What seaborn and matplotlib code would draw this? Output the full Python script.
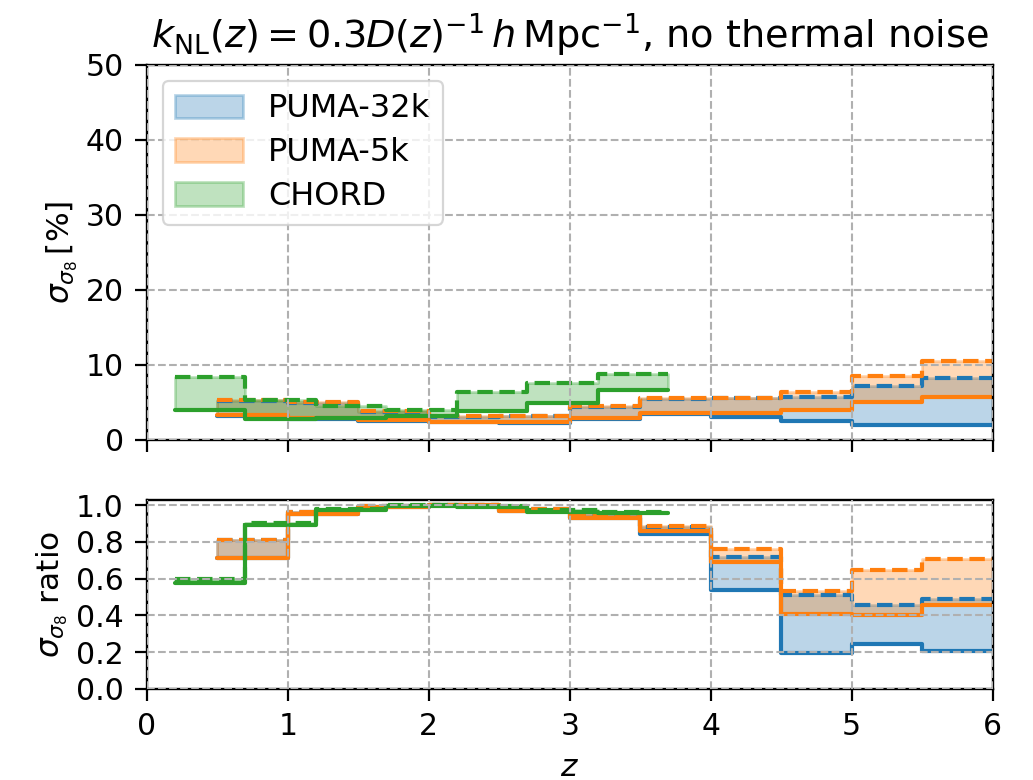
import numpy as np
import pandas as pd
import seaborn as sns
import matplotlib
matplotlib.use("Agg")
import matplotlib.pyplot as plt
from matplotlib.patches import Patch

# ---- data ----
puma_edges = [0.5, 1.0, 1.5, 2.0, 2.5, 3.0, 3.5, 4.0, 4.5, 5.0, 5.5, 6.0]
chord_edges = [0.2, 0.7, 1.2, 1.7, 2.2, 2.7, 3.2, 3.7]

# top panel: sigma_sigma8 [%]  (lo = solid, hi = dashed)
puma32k_lo = [3.2, 2.8, 2.5, 2.3, 2.2, 2.8, 3.4, 3.0, 2.45, 2.0, 1.9]
puma32k_hi = [5.2, 4.9, 3.7, 3.0, 3.1, 4.4, 5.4, 5.5, 5.7, 7.1, 8.2]
puma5k_lo = [3.3, 2.9, 2.6, 2.4, 2.3, 2.9, 3.6, 3.6, 3.9, 5.0, 5.7]
puma5k_hi = [5.3, 5.0, 3.8, 3.1, 3.2, 4.5, 5.6, 5.5, 6.3, 8.5, 10.5]
chord_lo = [4.0, 2.8, 2.9, 3.1, 3.8, 4.9, 6.6]
chord_hi = [8.4, 5.3, 4.5, 4.0, 6.4, 7.6, 8.7]

# bottom panel: ratio
puma32k_lo_r = [0.71, 0.95, 0.99, 1.0, 0.97, 0.93, 0.845, 0.54, 0.195, 0.245, 0.205]
puma32k_hi_r = [0.81, 0.965, 0.995, 1.0, 0.98, 0.955, 0.88, 0.72, 0.51, 0.455, 0.49]
puma5k_lo_r = [0.71, 0.95, 0.99, 1.0, 0.97, 0.93, 0.86, 0.69, 0.41, 0.40, 0.455]
puma5k_hi_r = [0.81, 0.965, 0.995, 1.0, 0.98, 0.955, 0.885, 0.76, 0.535, 0.645, 0.705]
chord_lo_r = [0.575, 0.89, 0.975, 0.995, 0.99, 0.965, 0.96]
chord_hi_r = [0.60, 0.905, 0.98, 1.0, 0.995, 0.975, 0.965]

labels = ["PUMA-32k", "PUMA-5k", "CHORD"]
title = r"$k_{\rm NL}(z) = 0.3D(z)^{-1}\,h\,{\rm Mpc}^{-1}$, no thermal noise"

# ---- style ----
sns.set_style("ticks")
plt.rcParams["font.family"] = ["DejaVu Sans"]
plt.rcParams["mathtext.fontset"] = "dejavusans"
plt.rcParams["font.size"] = 21.5
for k in ["text.color", "axes.labelcolor", "xtick.color", "ytick.color", "axes.edgecolor"]:
    plt.rcParams[k] = "black"
colors = sns.color_palette("tab10")[:3]

fig, (ax1, ax2) = plt.subplots(2, 1, figsize=(10.33, 7.8), dpi=100,
                               gridspec_kw=dict(height_ratios=[375, 189]))
fig.subplots_adjust(left=0.142, right=0.961, top=0.917, bottom=0.117, hspace=0.213)

def step_series(ax, edges, lo, hi, color):
    x = np.asarray(edges)
    lo_s = np.append(lo, lo[-1])
    hi_s = np.append(hi, hi[-1])
    ax.fill_between(x, lo_s, hi_s, step="post", color=color, alpha=0.3, lw=2)
    df = pd.DataFrame({"z": x, "lo": lo_s, "hi": hi_s})
    sns.lineplot(data=df, x="z", y="lo", ax=ax, color=color, lw=3,
                 drawstyle="steps-post", estimator=None, sort=False)
    sns.lineplot(data=df, x="z", y="hi", ax=ax, color=color, lw=3, ls="--",
                 drawstyle="steps-post", estimator=None, sort=False)

top_sets = [(puma_edges, puma32k_lo, puma32k_hi),
            (puma_edges, puma5k_lo, puma5k_hi),
            (chord_edges, chord_lo, chord_hi)]
bot_sets = [(puma_edges, puma32k_lo_r, puma32k_hi_r),
            (puma_edges, puma5k_lo_r, puma5k_hi_r),
            (chord_edges, chord_lo_r, chord_hi_r)]

for (e, lo, hi), c in zip(top_sets, colors):
    step_series(ax1, e, lo, hi, c)
for (e, lo, hi), c in zip(bot_sets, colors):
    step_series(ax2, e, lo, hi, c)

for ax in (ax1, ax2):
    ax.set_xlim(0, 6)
    ax.set_axisbelow(False)
    ax.grid(True, ls="--", color="0.69", lw=1.5)
    ax.tick_params(labelsize=21.5, length=8.4, width=1.6, pad=8, colors="black")
    for s in ax.spines.values():
        s.set_linewidth(1.7)
        s.set_color("black")
    ax.set_xticks(range(0, 7))

ax1.set_ylim(0, 50)
ax1.set_yticks([0, 10, 20, 30, 40, 50])
ax1.set_xticklabels([])
ax1.set_xlabel("")
ax1.set_ylabel(r"$\sigma_{\sigma_8}\,[\%]$", fontsize=22.5)
ax1.set_title(title, fontsize=27.5, pad=12)

ax2.set_ylim(0, 1.03)
ax2.set_yticks([0.0, 0.2, 0.4, 0.6, 0.8, 1.0])
ax2.set_yticklabels(["0.0", "0.2", "0.4", "0.6", "0.8", "1.0"])
ax2.set_xlabel(r"$z$", fontsize=22.5, labelpad=9)
ax2.set_ylabel(r"$\sigma_{\sigma_8}$ ratio", fontsize=22.5)

handles = [Patch(facecolor=c, edgecolor=c, alpha=0.3, lw=2) for c in colors]
leg = ax1.legend(handles, labels, loc="upper left", fontsize=23, frameon=True,
                 handlelength=2.1, handleheight=0.75, borderpad=0.4, labelspacing=0.4,
                 handletextpad=0.8, fancybox=True, framealpha=0.8, edgecolor="0.8")
leg.get_frame().set_linewidth(1.6)

fig.savefig("out.png", dpi=100)
